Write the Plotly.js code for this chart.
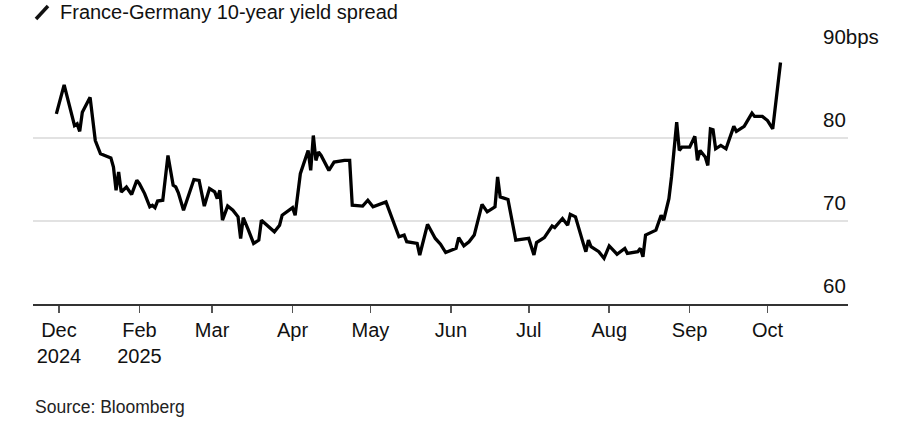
<!DOCTYPE html>
<html>
<head>
<meta charset="utf-8">
<script src="https://cdn.plot.ly/plotly-3.0.1.min.js"></script>
<style>html,body{margin:0;padding:0;background:#fff;}#chart{width:900px;height:432px;}</style>
</head>
<body>
<div id="chart"></div>
<script>
// France-Germany 10-year yield spread, bps
const dates = [
 '2024-12-31','2025-01-03','2025-01-07','2025-01-08','2025-01-09','2025-01-10','2025-01-13','2025-01-15','2025-01-17','2025-01-21',
 '2025-01-22','2025-01-23','2025-01-24','2025-01-25','2025-01-27','2025-01-29','2025-01-31','2025-02-01','2025-02-03','2025-02-05',
 '2025-02-06','2025-02-07','2025-02-08','2025-02-10','2025-02-12','2025-02-14','2025-02-15','2025-02-16','2025-02-18','2025-02-20',
 '2025-02-22','2025-02-24','2025-02-26','2025-02-28','2025-03-02','2025-03-03','2025-03-04','2025-03-05','2025-03-07','2025-03-09',
 '2025-03-11','2025-03-12','2025-03-13','2025-03-15','2025-03-17','2025-03-19','2025-03-20','2025-03-25','2025-03-27','2025-03-28',
 '2025-04-01','2025-04-02','2025-04-04','2025-04-07','2025-04-08','2025-04-09','2025-04-10','2025-04-11','2025-04-12','2025-04-15',
 '2025-04-17','2025-04-21','2025-04-23','2025-04-24','2025-04-28','2025-04-30','2025-05-02','2025-05-07','2025-05-09','2025-05-12',
 '2025-05-14','2025-05-15','2025-05-19','2025-05-20','2025-05-23','2025-05-26','2025-05-28','2025-05-30','2025-06-03','2025-06-04',
 '2025-06-06','2025-06-08','2025-06-10','2025-06-13','2025-06-15','2025-06-18','2025-06-19','2025-06-20','2025-06-23','2025-06-26',
 '2025-07-01','2025-07-03','2025-07-04','2025-07-07','2025-07-10','2025-07-11','2025-07-14','2025-07-16','2025-07-17','2025-07-19',
 '2025-07-22','2025-07-23','2025-07-24','2025-07-25','2025-07-28','2025-07-30','2025-08-01','2025-08-04','2025-08-07','2025-08-08',
 '2025-08-12','2025-08-13','2025-08-14','2025-08-15','2025-08-19','2025-08-21','2025-08-22','2025-08-24','2025-08-25','2025-08-26',
 '2025-08-27','2025-08-28','2025-08-29','2025-09-01','2025-09-03','2025-09-04','2025-09-05','2025-09-07','2025-09-08','2025-09-09',
 '2025-09-10','2025-09-11','2025-09-13','2025-09-15','2025-09-18','2025-09-19','2025-09-22','2025-09-25','2025-09-26','2025-09-29',
 '2025-10-01','2025-10-03','2025-10-06'
];
const spread = [
 82.9,86.4,81.5,81.7,80.8,83.1,84.9,79.7,78.1,77.6,
 76.5,73.7,75.9,73.5,74.1,73.2,74.9,74.5,73.3,71.7,
 71.9,71.6,72.4,72.5,77.9,74.3,74.1,73.4,71.3,73.3,
 75.0,74.9,71.8,73.9,73.5,72.7,73.7,70.1,71.8,71.3,
 70.5,67.9,70.4,68.9,67.3,67.7,70.1,68.7,69.5,70.7,
 71.6,70.7,75.7,78.5,76.1,80.3,77.3,78.3,77.9,76.1,
 77.1,77.3,77.3,71.9,71.8,72.5,71.7,72.3,70.6,68.1,
 68.3,67.5,67.3,65.9,69.6,67.9,67.2,66.2,66.7,68.0,
 67.0,67.5,68.3,72.0,71.1,71.7,75.3,72.9,72.6,67.7,
 67.9,65.9,67.4,68.0,69.4,69.2,70.3,69.5,70.8,70.5,
 67.3,66.3,67.7,66.9,66.3,65.5,67.0,66.0,66.7,66.1,
 66.3,66.7,65.7,68.3,68.9,70.7,70.1,72.7,75.3,79.1,
 81.9,78.5,78.9,78.9,80.2,77.3,78.5,77.7,76.7,81.1,
 81.0,78.7,79.1,78.7,81.4,80.8,81.4,83.0,82.6,82.6,
 82.1,81.1,89.1
];
const xTickVals = ['2025-01-01','2025-02-01','2025-03-01','2025-04-01','2025-05-01','2025-06-01','2025-07-01','2025-08-01','2025-09-01','2025-10-01'];
const xTickText = ['Dec<br>2024','Feb<br>2025','Mar','Apr','May','Jun','Jul','Aug','Sep','Oct'];
const yTickVals = [60, 70, 80, 90];
const yTickText = ['60', '70', '80', '90bps'];
const titleText = 'France-Germany 10-year yield spread';
const sourceText = 'Source: Bloomberg';

const FONT = 'Liberation Sans, Arial, Helvetica, sans-serif';

const yLabelAnnotations = yTickVals.map((v, i) => ({
  x: 0.967, xref: 'paper', xanchor: 'left',
  y: v, yref: 'y', yanchor: 'middle', yshift: 19,
  text: yTickText[i], showarrow: false,
  font: {family: FONT, size: 20.5, color: '#111'}
}));

const layout = {
  width: 900, height: 432,
  margin: {l: 33, r: 52, t: 55, b: 128},
  paper_bgcolor: '#ffffff', plot_bgcolor: '#ffffff',
  showlegend: false,
  font: {family: FONT, size: 20, color: '#111'},
  title: {
    text: titleText, x: 60/900, xref: 'container', xanchor: 'left',
    y: 1 - 12/432, yref: 'container', yanchor: 'middle',
    font: {family: FONT, size: 20, color: '#111'}
  },
  xaxis: {
    type: 'date', range: ['2024-12-22', '2025-11-01'],
    tickvals: xTickVals, ticktext: xTickText,
    ticks: 'outside', ticklen: 7, tickwidth: 1.5, tickcolor: '#555',
    showline: true, linecolor: '#333', linewidth: 1.5,
    showgrid: false, zeroline: false,
    tickfont: {family: FONT, size: 20, color: '#111'}
  },
  yaxis: {
    range: [60, 90], tickvals: yTickVals, showticklabels: false,
    showgrid: true, gridcolor: '#e2e2e2', gridwidth: 1.5,
    zeroline: false, showline: false, ticks: ''
  },
  shapes: [{
    type: 'line', xref: 'paper', yref: 'paper',
    x0: (36 - 33)/815, y0: (304 - 19)/249, x1: (48 - 33)/815, y1: (304 - 6)/249,
    line: {color: '#111', width: 3.5}
  }],
  annotations: yLabelAnnotations.concat([{
    x: 0, xref: 'paper', xanchor: 'left',
    y: (304 - 407)/249, yref: 'paper', yanchor: 'middle',
    text: sourceText, showarrow: false,
    font: {family: FONT, size: 17.5, color: '#222'}
  }])
};

Plotly.newPlot('chart', [{
  type: 'scatter', mode: 'lines', x: dates, y: spread,
  line: {color: '#000', width: 3.3, shape: 'linear'},
  hoverinfo: 'skip'
}], layout, {displayModeBar: false, staticPlot: true});
</script>
</body>
</html>
